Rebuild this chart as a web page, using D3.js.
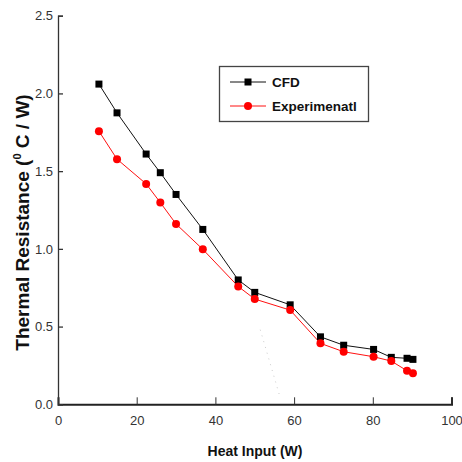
<!DOCTYPE html>
<meta charset="utf-8">
<script src="https://d3js.org/d3.v7.min.js"></script>
<style>
  body { margin: 0; background: #fff; }
  text { font-family: "Liberation Sans", Arial, sans-serif; }
</style>
<svg id="chart" width="462" height="462"></svg>
<script>
// data
const heatInput = [10.4, 15, 22.4, 26, 30, 36.8, 45.8, 50, 59, 66.7, 72.6, 80.2, 84.7, 88.7, 90.2];
const cfd = [2.06, 1.875, 1.61, 1.49, 1.35, 1.125, 0.80, 0.72, 0.64, 0.434, 0.38, 0.353, 0.302, 0.296, 0.289];
const experimental = [1.757, 1.577, 1.418, 1.298, 1.16, 0.997, 0.758, 0.677, 0.606, 0.392, 0.338, 0.306, 0.278, 0.216, 0.20];
const xTicks = [0, 20, 40, 60, 80, 100];
const yTicks = [0.0, 0.5, 1.0, 1.5, 2.0, 2.5];
const seriesNames = ["CFD", "Experimenatl"];
// faint dotted scan artifact
const artifactX = [51.4, 56.5];
const artifactY = [0.48, 0.04];

const svg = d3.select("#chart");

const x = d3.scaleLinear().domain([0, 100]).range([58, 451.5]);
const y = d3.scaleLinear().domain([0, 2.5]).range([404.3, 15.7]);

// axes
const xAxis = svg.append("g")
  .attr("transform", `translate(0,${y(0)})`)
  .call(d3.axisBottom(x).tickValues(xTicks).tickSize(-7).tickPadding(11).tickFormat(d3.format("d")));
xAxis.select(".domain").attr("stroke", "#222").attr("stroke-width", 2);
xAxis.selectAll(".tick line").attr("stroke", "#333").attr("stroke-width", 1);
xAxis.selectAll(".tick text").attr("font-size", 13).attr("fill", "#333");

const yAxis = svg.append("g")
  .attr("transform", `translate(${x(0)},0)`)
  .call(d3.axisLeft(y).tickValues(yTicks).tickSize(-5).tickPadding(5).tickFormat(d3.format(".1f")));
yAxis.select(".domain").attr("stroke", "#333").attr("stroke-width", 1.3);
yAxis.selectAll(".tick line").attr("stroke", "#333").attr("stroke-width", 1.3);
yAxis.selectAll(".tick text").attr("font-size", 13).attr("fill", "#333");

// axis titles
svg.append("text")
  .attr("x", 255).attr("y", 456)
  .attr("text-anchor", "middle")
  .attr("font-size", 14).attr("font-weight", "bold").attr("fill", "#111")
  .text("Heat Input (W)");

const yTitle = svg.append("text")
  .attr("transform", "translate(29,222.5) rotate(-90)")
  .attr("text-anchor", "middle")
  .attr("font-size", 19).attr("font-weight", "bold").attr("fill", "#111");
yTitle.append("tspan").text("Thermal Resistance (");
yTitle.append("tspan").attr("font-size", 11).attr("dy", -8).text("0");
yTitle.append("tspan").attr("dy", 8).text(" C / W)");

// artifact
svg.append("line")
  .attr("x1", x(artifactX[0])).attr("y1", y(artifactY[0]))
  .attr("x2", x(artifactX[1])).attr("y2", y(artifactY[1]))
  .attr("stroke", "#ccc").attr("stroke-width", 1).attr("stroke-dasharray", "1,5");

// series
const line = d3.line().x(d => x(d[0])).y(d => y(d[1]));
const cfdPts = heatInput.map((h, i) => [h, cfd[i]]);
const expPts = heatInput.map((h, i) => [h, experimental[i]]);

svg.append("path").datum(cfdPts).attr("d", line)
  .attr("fill", "none").attr("stroke", "#111").attr("stroke-width", 1);
svg.append("path").datum(expPts).attr("d", line)
  .attr("fill", "none").attr("stroke", "#ff1010").attr("stroke-width", 1);

svg.append("g").selectAll("rect").data(cfdPts).join("rect")
  .attr("x", d => x(d[0]) - 3.5).attr("y", d => y(d[1]) - 3.5)
  .attr("width", 7).attr("height", 7).attr("fill", "#000");

svg.append("g").selectAll("circle").data(expPts).join("circle")
  .attr("cx", d => x(d[0])).attr("cy", d => y(d[1]))
  .attr("r", 4).attr("fill", "#ff0000");

// legend
const legend = svg.append("g");
legend.append("rect")
  .attr("x", 219.5).attr("y", 66.5).attr("width", 149).attr("height", 55)
  .attr("fill", "#fff").attr("stroke", "#444").attr("stroke-width", 1.3);

const legendColors = ["#111", "#ff1010"];
seriesNames.forEach((name, i) => {
  const ly = 82 + i * 24;
  legend.append("line").attr("x1", 230).attr("x2", 266).attr("y1", ly).attr("y2", ly)
    .attr("stroke", legendColors[i]).attr("stroke-width", 1);
  if (i === 0) {
    legend.append("rect").attr("x", 244.5).attr("y", ly - 3.5).attr("width", 7).attr("height", 7).attr("fill", "#000");
  } else {
    legend.append("circle").attr("cx", 248).attr("cy", ly).attr("r", 4).attr("fill", "#ff0000");
  }
  legend.append("text").attr("x", 272).attr("y", ly + 5)
    .attr("font-size", 13.5).attr("font-weight", "bold").attr("fill", "#111")
    .text(name);
});
</script>
